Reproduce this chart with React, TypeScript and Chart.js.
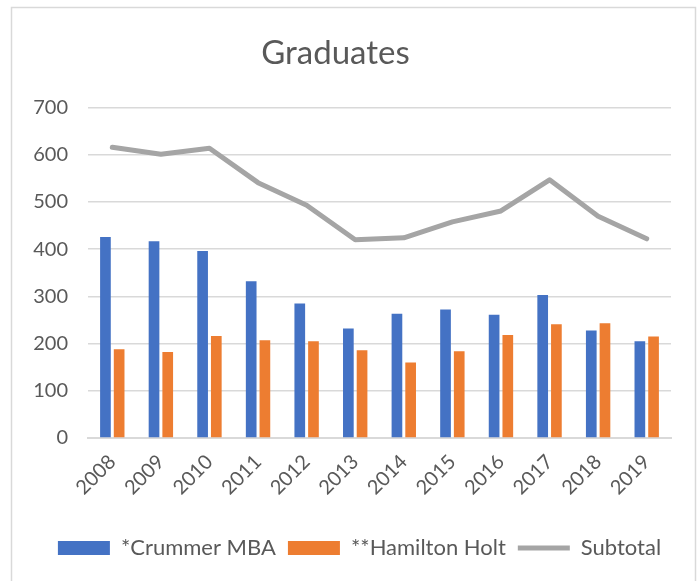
import React, { useEffect, useRef } from "react";
import { Chart, registerables } from "chart.js";

Chart.register(...registerables);

const years = ["2008", "2009", "2010", "2011", "2012", "2013", "2014", "2015", "2016", "2017", "2018", "2019"];
const crummerMBA = [426, 417, 396, 332, 285, 232, 263, 272, 261, 303, 228, 205];
const hamiltonHolt = [188, 182, 216, 207, 205, 186, 160, 184, 218, 241, 243, 215];
const subtotal = [616, 601, 614, 541, 493, 420, 424, 458, 481, 547, 470, 422];
const yTicks = [0, 100, 200, 300, 400, 500, 600, 700];

const FONT = "Lato, 'Noto Sans', sans-serif";
const TEXT = "#595959";

const borderPlugin = {
  id: "outerBorder",
  beforeDraw(chart: any) {
    const { ctx, width, height } = chart;
    ctx.save();
    ctx.fillStyle = "#ffffff";
    ctx.fillRect(0, 0, width, height);
    ctx.strokeStyle = "#D9D9D9";
    ctx.lineWidth = 1.5;
    ctx.beginPath();
    ctx.moveTo(11.5, height + 2);
    ctx.lineTo(11.5, 7.5);
    ctx.lineTo(695.5, 7.5);
    ctx.lineTo(695.5, height + 2);
    ctx.stroke();
    ctx.restore();
  },
};

const legendShiftPlugin = {
  id: "legendShift",
  afterLayout(chart: any) {
    const lg = chart.legend;
    if (lg) {
      lg.left += 24;
      lg.right += 24;
    }
  },
};

export default function App() {
  const ref = useRef<HTMLCanvasElement>(null);
  useEffect(() => {
    document.body.style.margin = "0";
    const chart = new Chart(ref.current as HTMLCanvasElement, {
      type: "bar",
      data: {
        labels: years,
        datasets: [
          {
            type: "bar",
            label: "*Crummer MBA",
            data: crummerMBA,
            backgroundColor: "#4472C4",
            categoryPercentage: 0.564,
            barPercentage: 0.78,
            order: 1,
            pointStyle: "rect",
          } as any,
          {
            type: "bar",
            label: "**Hamilton Holt",
            data: hamiltonHolt,
            backgroundColor: "#ED7D31",
            categoryPercentage: 0.564,
            barPercentage: 0.78,
            order: 1,
            pointStyle: "rect",
          } as any,
          {
            type: "line",
            label: "Subtotal",
            data: subtotal,
            borderColor: "#A5A5A5",
            backgroundColor: "#A5A5A5",
            borderWidth: 5,
            pointRadius: 0,
            tension: 0,
            borderJoinStyle: "round",
            borderCapStyle: "round",
            order: 0,
            pointStyle: "line",
          } as any,
        ],
      },
      options: {
        animation: false,
        responsive: false,
        maintainAspectRatio: false,
        layout: { padding: { left: 0, right: 29, top: 14, bottom: 12 } },
        plugins: {
          title: {
            display: true,
            text: "Graduates",
            color: TEXT,
            font: { family: FONT, size: 33, weight: "normal" },
            padding: { top: 20, bottom: 34 },
          },
          legend: {
            position: "bottom",
            labels: {
              usePointStyle: true,
              pointStyleWidth: 52,
              boxHeight: 14,
              color: TEXT,
              font: { family: FONT, size: 22 },
              padding: 12,
              sort: (a: any, b: any) => a.datasetIndex - b.datasetIndex,
            },
          },
          tooltip: { enabled: false },
        },
        scales: {
          x: {
            grid: { display: false, drawTicks: false },
            border: { display: true, color: "#D9D9D9", width: 2 },
            afterFit: (scale: any) => {
              scale.height = 87;
            },
            ticks: {
              color: TEXT,
              font: { family: FONT, size: 20 },
              maxRotation: 45,
              minRotation: 45,
              padding: 12,
            },
          },
          y: {
            min: 0,
            max: 700,
            afterFit: (scale: any) => {
              scale.width = 88;
            },
            afterBuildTicks: (scale: any) => {
              scale.ticks = yTicks.map((v) => ({ value: v }));
            },
            grid: { color: "#D9D9D9", lineWidth: 1.5, drawTicks: false },
            border: { display: false },
            ticks: {
              color: TEXT,
              font: { family: FONT, size: 20 },
              padding: 20,
            },
          },
        },
      },
      plugins: [borderPlugin, legendShiftPlugin],
    } as any);
    return () => chart.destroy();
  }, []);
  return (
    <div style={{ position: "fixed", left: 0, top: 0, width: 700, height: 581 }}>
      <canvas ref={ref} width={700} height={581} style={{ width: 700, height: 581 }} />
    </div>
  );
}
